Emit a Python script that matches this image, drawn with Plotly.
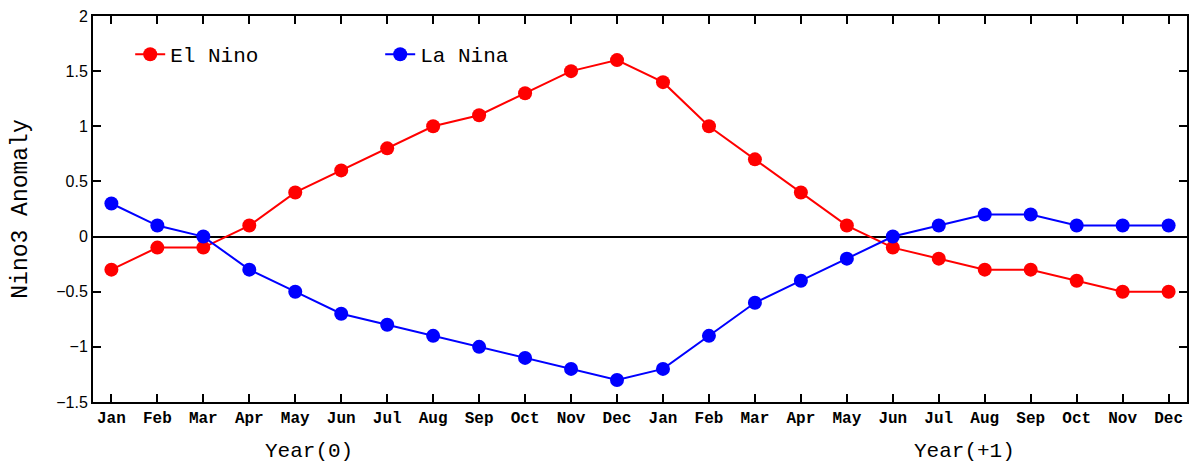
import plotly.graph_objects as go

# Months across two years: Year(0) then Year(+1)
months = ["Jan", "Feb", "Mar", "Apr", "May", "Jun",
          "Jul", "Aug", "Sep", "Oct", "Nov", "Dec"] * 2
x_idx = list(range(len(months)))

el_nino = [-0.3, -0.1, -0.1, 0.1, 0.4, 0.6, 0.8, 1.0, 1.1, 1.3, 1.5, 1.6,
           1.4, 1.0, 0.7, 0.4, 0.1, -0.1, -0.2, -0.3, -0.3, -0.4, -0.5, -0.5]
la_nina = [0.3, 0.1, 0.0, -0.3, -0.5, -0.7, -0.8, -0.9, -1.0, -1.1, -1.2, -1.3,
           -1.2, -0.9, -0.6, -0.4, -0.2, 0.0, 0.1, 0.2, 0.2, 0.1, 0.1, 0.1]

y_ticks = [-1.5, -1, -0.5, 0, 0.5, 1, 1.5, 2]
y_ticktext = ["\u22121.5", "\u22121", "\u22120.5", "0", "0.5", "1", "1.5", "2"]

mono = "Liberation Mono, Courier New, monospace"
sans = "Liberation Sans, Arial, sans-serif"

fig = go.Figure()
fig.add_trace(go.Scatter(
    x=x_idx, y=el_nino, name="El Nino", mode="lines+markers",
    line=dict(color="#ff0000", width=2),
    marker=dict(color="#ff0000", size=14)
))
fig.add_trace(go.Scatter(
    x=x_idx, y=la_nina, name="La Nina", mode="lines+markers",
    line=dict(color="#0000ff", width=2),
    marker=dict(color="#0000ff", size=14)
))

# page body has an 8px margin, so the figure is a bit smaller than the window
fig.update_layout(
    width=1192, height=466,
    margin=dict(l=85, r=13, t=8, b=72),
    plot_bgcolor="white", paper_bgcolor="white",
    font=dict(family=mono, color="black"),
    legend=dict(orientation="h", x=0.034, y=0.90, xanchor="left", yanchor="middle",
                font=dict(size=21, family=mono), bgcolor="rgba(0,0,0,0)",
                entrywidth=205, entrywidthmode="pixels"),
    showlegend=True,
)

fig.update_xaxes(
    range=[-0.4, 23.4], automargin=False,
    tickvals=x_idx, ticktext=months,
    ticks="inside", ticklen=8, tickwidth=2, tickcolor="black",
    showline=True, linecolor="black", linewidth=2, mirror="ticks",
    showgrid=False, zeroline=False,
    tickfont=dict(size=16, family=mono, weight="bold"),
)
fig.update_yaxes(
    range=[-1.5, 2], automargin=False, ticklabeloverflow="allow",
    tickvals=y_ticks, ticktext=y_ticktext,
    ticks="inside", ticklen=8, tickwidth=2, tickcolor="black",
    showline=True, linecolor="black", linewidth=2, mirror="ticks",
    showgrid=False, zeroline=True, zerolinecolor="black", zerolinewidth=1.5,
    tickfont=dict(size=16, family=sans),
    title=dict(text="Nino3 Anomaly", font=dict(size=23, family=mono), standoff=22),
)

fig.add_annotation(x=4.3, y=0, xref="x", yref="paper", text="Year(0)",
                   showarrow=False, font=dict(size=21, family=mono),
                   yanchor="middle", yshift=-49)
fig.add_annotation(x=18.55, y=0, xref="x", yref="paper", text="Year(+1)",
                   showarrow=False, font=dict(size=21, family=mono),
                   yanchor="middle", yshift=-49)

fig.write_html("out.html")
